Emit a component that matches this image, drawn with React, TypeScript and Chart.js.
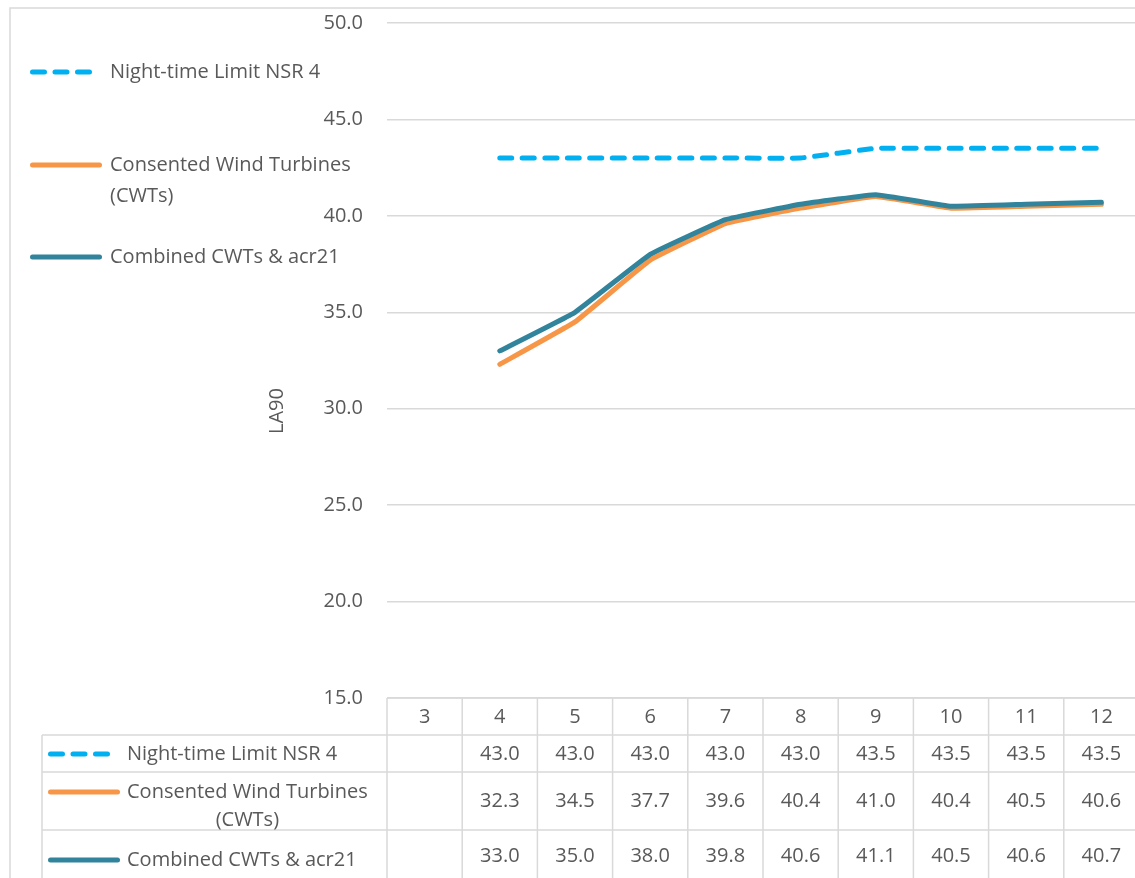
import React, { useEffect, useRef } from "react";
import { Chart, registerables } from "chart.js";

Chart.register(...registerables);

// ---------- data ----------
const categories: string[] = ["3", "4", "5", "6", "7", "8", "9", "10", "11", "12"];
const nightLimit: (number | null)[] = [null, 43.0, 43.0, 43.0, 43.0, 43.0, 43.5, 43.5, 43.5, 43.5];
const consented: (number | null)[] = [null, 32.3, 34.5, 37.7, 39.6, 40.4, 41.0, 40.4, 40.5, 40.6];
const combined: (number | null)[] = [null, 33.0, 35.0, 38.0, 39.8, 40.6, 41.1, 40.5, 40.6, 40.7];
const seriesLabels: string[][] = [
  ["Night-time Limit NSR 4"],
  ["Consented Wind Turbines", "(CWTs)"],
  ["Combined CWTs & acr21"],
];
const yAxisTitle = "LA90";
const yMin = 15;
const yMax = 50;
const yStep = 5;

// ---------- styles ----------
const FONT = "'Open Sans', 'Noto Sans', sans-serif";
const FONT_SIZE = 20;
const TEXT = "#595959";
const GRID = "#d9d9d9";
const colors = ["#00B0F0", "#F79646", "#31849B"];
const DASH = [12, 10.5];
const LW = 5;

const tablePlugin = {
  id: "excelTable",
  afterDraw(chart: any) {
    const ctx: CanvasRenderingContext2D = chart.ctx;
    const xs = chart.scales.x;
    const ys = chart.scales.y;
    const n = categories.length;
    const colW = xs.getPixelForValue(1) - xs.getPixelForValue(0);
    const tLeft = xs.getPixelForValue(0) - colW / 2;
    const tRight = xs.getPixelForValue(n - 1) + colW / 2;
    const top = ys.getPixelForValue(yMin);
    const rowLines = [top, top + 37, top + 74, top + 132];
    const bottom = chart.height + 5;
    const legendLeft = 42;
    const series = [nightLimit, consented, combined];
    const rowCenters = [top + 56, top + 103, top + 158];
    const keyY = [top + 56, top + 94, top + 162];

    ctx.save();
    // outer chart border
    ctx.strokeStyle = GRID;
    ctx.lineWidth = 1.5;
    ctx.strokeRect(10, 8, chart.width + 50, chart.height + 50);

    // table lines
    ctx.beginPath();
    ctx.moveTo(tLeft, rowLines[0]);
    ctx.lineTo(tRight, rowLines[0]);
    for (let i = 1; i < rowLines.length; i++) {
      ctx.moveTo(legendLeft, rowLines[i]);
      ctx.lineTo(tRight, rowLines[i]);
    }
    ctx.moveTo(legendLeft, rowLines[1]);
    ctx.lineTo(legendLeft, bottom);
    for (let i = 0; i <= n; i++) {
      const xx = tLeft + i * colW;
      ctx.moveTo(xx, rowLines[0]);
      ctx.lineTo(xx, bottom);
    }
    ctx.stroke();

    ctx.font = `${FONT_SIZE}px ${FONT}`;
    ctx.fillStyle = TEXT;
    ctx.textBaseline = "middle";
    ctx.textAlign = "center";
    // header
    categories.forEach((c, i) => {
      ctx.fillText(c, xs.getPixelForValue(i), top + 19);
    });
    // values
    series.forEach((s, si) => {
      s.forEach((v, i) => {
        if (v === null || v === undefined) return;
        ctx.fillText(v.toFixed(1), xs.getPixelForValue(i), rowCenters[si]);
      });
    });

    const drawKey = (si: number, x0: number, yy: number) => {
      ctx.save();
      ctx.strokeStyle = colors[si];
      ctx.lineWidth = LW;
      ctx.lineCap = "round";
      ctx.beginPath();
      if (si === 0) {
        ctx.setLineDash(DASH);
        ctx.moveTo(x0 + 2.5, yy);
        ctx.lineTo(x0 + 60.5, yy);
      } else {
        ctx.moveTo(x0 + 2.5, yy);
        ctx.lineTo(x0 + 69.5, yy);
      }
      ctx.stroke();
      ctx.restore();
    };

    // table legend cells
    seriesLabels.forEach((lines, si) => {
      drawKey(si, 48, keyY[si]);
      const maxW = Math.max(...lines.map((l) => ctx.measureText(l).width));
      ctx.textAlign = "center";
      lines.forEach((l, li) => {
        ctx.fillText(l, 127 + maxW / 2, keyY[si] + li * 28);
      });
    });

    // left legend
    const legY = [72, 165, 257];
    seriesLabels.forEach((lines, si) => {
      drawKey(si, 30, legY[si]);
      ctx.textAlign = "left";
      lines.forEach((l, li) => {
        ctx.fillText(l, 110, legY[si] + li * 31);
      });
    });

    // y axis title
    ctx.save();
    ctx.translate(277, 411);
    ctx.rotate(-Math.PI / 2);
    ctx.textAlign = "center";
    ctx.fillText(yAxisTitle, 0, 0);
    ctx.restore();

    ctx.restore();
  },
};

export default function App() {
  const ref = useRef<HTMLCanvasElement | null>(null);

  useEffect(() => {
    document.body.style.margin = "0";
    document.body.style.overflow = "hidden";
    const canvas = ref.current;
    if (!canvas) return;
    const mk = (label: string, data: (number | null)[], color: string, order: number, dash: number[] = []) => ({
      label,
      data,
      borderColor: color,
      backgroundColor: color,
      borderWidth: LW,
      borderDash: dash,
      borderCapStyle: "round",
      borderJoinStyle: "round",
      pointRadius: 0,
      pointHoverRadius: 0,
      tension: 0.08,
      fill: false,
      order,
    });
    const chart = new Chart(canvas, {
      type: "line",
      data: {
        labels: categories,
        datasets: [
          mk(seriesLabels[0].join(" "), nightLimit, colors[0], 2, DASH) as any,
          mk(seriesLabels[1].join(" "), consented, colors[1], 1) as any,
          mk(seriesLabels[2].join(" "), combined, colors[2], 0) as any,
        ],
      },
      options: {
        responsive: false,
        animation: false,
        devicePixelRatio: 1,
        layout: { padding: { left: 0, top: 23, right: 11, bottom: 180 } },
        plugins: {
          legend: { display: false },
          tooltip: { enabled: false },
          title: { display: false },
        },
        scales: {
          x: {
            type: "category",
            offset: true,
            display: false,
          },
          y: {
            min: yMin,
            max: yMax,
            border: { display: false },
            grid: { color: GRID, lineWidth: 1.5, drawTicks: false },
            ticks: {
              stepSize: yStep,
              padding: 24,
              color: TEXT,
              font: { family: FONT, size: FONT_SIZE },
              callback: (v: any) => Number(v).toFixed(1),
            },
            afterFit: (scale: any) => {
              scale.width = 387;
              scale.paddingTop = 0;
              scale.paddingBottom = 0;
            },
          },
        },
      },
      plugins: [tablePlugin],
    } as any);
    return () => chart.destroy();
  }, []);

  return (
    <div style={{ width: 1135, height: 878, overflow: "hidden", position: "relative", background: "#fff" }}>
      <canvas ref={ref} width={1150} height={878} style={{ display: "block" }} />
    </div>
  );
}
